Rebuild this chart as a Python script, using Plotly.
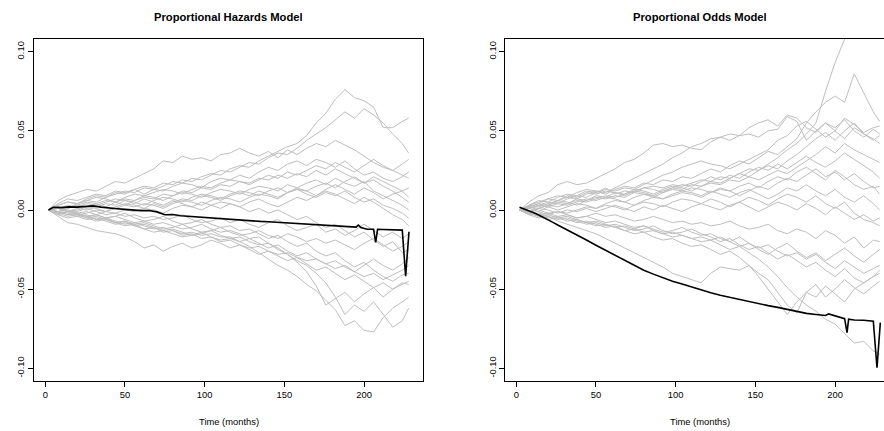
import plotly.graph_objects as go

# ---------------- data ----------------
MONTHS = [2, 8, 14, 20, 26, 32, 38, 44, 50, 56,
          62, 68, 74, 80, 86, 92, 98, 104, 110, 116,
          122, 128, 134, 140, 146, 152, 158, 164, 170, 176,
          182, 188, 194, 200, 206, 212, 218, 224, 228]

# simulated processes, Proportional Hazards panel (values x 1/1000)
PH_SIM_MILLI = [
    [0,3,5,4,7,9,8,11,10,13, 15,14,17,16,19,18,21,23,22,26, 28,27,31,34,37,40,42,47,55,61, 70,76,71,69,65,52,52,56,58],
    [0,2,1,4,6,5,8,10,12,11, 14,13,15,18,17,20,19,22,25,24, 27,30,29,33,36,35,39,44,48,52, 57,62,58,64,60,55,48,42,36],
    [0,6,9,11,13,12,15,18,17,20, 23,26,31,30,34,32,33,31,35,36, 39,36,34,37,33,38,35,39,42,40, 44,41,38,34,30,27,25,29,32],
    [0,4,7,6,8,10,9,12,11,13, 10,13,12,15,17,16,14,18,20,19, 22,20,24,27,25,29,31,28,32,30, 27,31,26,22,24,20,18,21,24],
    [0,-1,1,3,2,4,6,5,3,6, 8,7,10,9,12,11,14,13,16,15, 18,17,20,19,22,20,23,21,25,22, 26,23,20,17,21,18,15,12,14],
    [0,2,1,3,5,4,2,5,7,6, 9,8,6,9,11,10,8,11,13,12, 10,13,15,14,12,16,14,17,19,16, 20,17,15,18,12,9,6,3,0],
    [0,-2,-1,1,0,2,4,3,6,5, 3,6,8,7,5,8,10,9,7,10, 12,11,9,12,14,11,13,10,8,11, 9,12,8,5,7,3,1,-2,-5],
    [0,1,-1,-3,-2,0,-1,1,3,2, 4,3,1,4,6,5,3,6,8,7, 5,8,10,9,7,11,13,12,15,17, 14,18,21,17,19,15,12,8,5],
    [0,-1,-3,-2,-4,-3,-1,-2,0,-1, 1,0,-2,1,3,2,0,3,5,4, 2,5,7,4,2,5,8,6,9,12, 10,7,4,8,5,1,-3,-6,-10],
    [0,-2,-4,-3,-5,-7,-6,-8,-7,-9, -8,-10,-12,-11,-9,-12,-14,-13,-11,-14, -16,-15,-13,-16,-18,-15,-17,-20,-18,-21, -19,-22,-25,-21,-18,-22,-26,-23,-20],
    [0,-1,-2,-4,-3,-6,-5,-8,-10,-9, -12,-11,-14,-13,-16,-15,-18,-17,-20,-19, -22,-24,-23,-26,-28,-27,-30,-32,-31,-34, -37,-35,-39,-42,-40,-44,-41,-38,-35],
    [0,-4,-8,-9,-11,-13,-14,-15,-17,-20, -24,-22,-26,-23,-21,-24,-22,-19,-21,-24, -22,-25,-28,-26,-29,-32,-30,-34,-38,-36, -40,-44,-41,-45,-49,-46,-50,-47,-45],
    [0,-1,-3,-2,-4,-6,-5,-7,-9,-8, -10,-12,-11,-13,-15,-14,-16,-15,-17,-17, -20,-23,-27,-31,-35,-38,-42,-47,-51,-57, -63,-73,-70,-76,-77,-68,-62,-58,-55],
    [0,-2,-1,-3,-5,-4,-6,-8,-7,-10, -9,-11,-13,-12,-14,-16,-15,-13,-16,-18, -17,-20,-22,-21,-25,-28,-32,-35,-40,-46, -55,-66,-60,-64,-58,-66,-74,-70,-62],
    [0,1,-1,-2,-4,-3,-5,-4,-6,-8, -7,-9,-8,-10,-12,-11,-9,-12,-14,-13, -15,-18,-17,-21,-24,-28,-33,-39,-48,-60, -56,-52,-58,-53,-49,-55,-50,-46,-47],
    [0,-1,0,-2,-1,-3,-5,-4,-2,-5, -7,-6,-4,-7,-9,-8,-6,-9,-11,-10, -13,-12,-15,-18,-16,-20,-23,-21,-26,-29, -27,-32,-36,-33,-38,-42,-45,-41,-40],
    [0,1,3,2,4,3,5,7,6,4, 7,5,3,6,4,2,5,3,1,4, 2,-1,1,-2,0,-3,-6,-4,-8,-11, -9,-13,-17,-14,-19,-23,-20,-27,-25],
    [0,-3,-1,0,2,1,-1,2,4,3, 1,4,2,5,7,6,9,8,6,9, 11,9,12,10,8,11,14,12,9,13, 16,13,10,14,11,7,10,12,8],
    [0,2,0,-1,1,-1,-3,-2,-4,-3, -5,-4,-6,-5,-3,-6,-8,-7,-5,-8, -6,-9,-11,-8,-6,-10,-13,-11,-9,-14, -12,-16,-13,-9,-13,-17,-14,-18,-15],
    [0,3,5,4,6,8,7,5,8,10, 9,11,13,12,10,13,15,14,17,19, 18,16,19,22,20,24,22,25,28,26, 30,27,24,28,32,28,25,22,20],
    [0,-3,-5,-4,-6,-5,-7,-9,-8,-10, -12,-14,-13,-15,-17,-16,-14,-17,-19,-18, -20,-18,-21,-24,-22,-26,-29,-27,-31,-34, -32,-36,-39,-35,-31,-35,-38,-34,-30],
]

# simulated processes, Proportional Odds panel (values x 1/1000)
PO_SIM_MILLI = [
    [0,3,6,5,8,10,9,12,11,14, 10,12,11,14,15,14,16,15,17,19, 18,21,20,23,26,25,29,33,38,42, 48,55,75,93,108,120,126,130,128],
    [0,2,4,7,9,8,11,13,12,10, 13,15,14,17,16,19,18,21,20,23, 26,24,28,31,29,33,37,35,40,45, 55,62,68,72,68,86,74,62,56],
    [0,5,9,11,16,18,16,17,20,23, 26,30,32,36,41,42,40,41,39,38, 43,46,44,47,48,46,50,51,59,56, 44,50,55,52,57,50,46,51,48],
    [0,2,4,3,6,8,7,10,12,11, 14,17,20,23,26,29,33,36,40,42, 45,46,48,47,52,55,57,53,60,58, 52,49,55,50,58,54,49,52,53],
    [0,1,3,5,4,7,9,8,11,13, 12,14,13,16,19,22,24,27,29,31, 29,28,26,29,32,35,38,44,47,53, 56,51,46,50,45,52,48,44,47],
    [0,-2,1,3,5,4,7,6,9,8, 11,10,13,12,10,13,15,14,12,15, 17,16,19,18,21,19,22,25,23,27, 31,35,40,36,42,38,35,32,30],
    [0,3,2,4,6,5,3,6,8,7, 9,8,11,10,8,11,13,12,14,13, 11,14,12,9,12,15,13,17,20,18, 22,26,21,24,19,23,18,14,15],
    [0,1,-1,2,4,3,5,7,6,8, 7,5,8,10,9,7,10,12,11,9, 12,10,8,11,13,10,7,10,14,12, 16,12,9,13,8,5,9,4,0],
    [0,-2,-4,-3,-1,-2,0,2,1,3, 2,0,3,5,4,2,5,7,6,4, 7,5,2,5,8,6,3,7,10,8, 5,9,4,1,5,-2,-6,-8,-10],
    [0,-1,-3,-2,-4,-3,-5,-4,-2,-4, -3,-5,-7,-6,-4,-6,-8,-7,-9,-8, -10,-9,-7,-10,-12,-11,-9,-13,-15,-12, -14,-18,-13,-16,-21,-17,-24,-19,-20],
    [0,-3,-5,-4,-7,-9,-11,-13,-15,-18, -21,-24,-27,-30,-33,-36,-40,-42,-44,-46, -40,-36,-37,-38,-35,-40,-44,-52,-60,-65, -52,-55,-48,-53,-58,-50,-46,-42,-38],
    [0,-2,-1,-3,-5,-4,-6,-8,-7,-9, -11,-10,-12,-14,-13,-15,-17,-16,-18,-20, -19,-22,-25,-23,-27,-31,-36,-42,-49,-55, -60,-64,-69,-72,-78,-84,-83,-89,-91],
    [0,-1,-3,-5,-4,-6,-8,-7,-9,-11, -10,-13,-15,-14,-17,-19,-18,-21,-23,-22, -25,-28,-26,-30,-35,-42,-50,-58,-66,-58, -52,-47,-55,-50,-44,-49,-53,-48,-45],
    [0,2,0,-2,-1,-3,-5,-4,-6,-8, -7,-9,-11,-10,-12,-14,-13,-11,-14,-16, -15,-18,-20,-17,-21,-24,-22,-26,-29,-27, -31,-28,-33,-37,-32,-36,-40,-37,-35],
    [0,-2,-4,-6,-5,-7,-6,-8,-10,-9, -11,-13,-12,-10,-13,-15,-14,-16,-18,-17, -19,-17,-20,-23,-21,-25,-28,-24,-21,-26, -30,-27,-32,-28,-24,-29,-33,-28,-25],
    [0,1,3,2,0,2,4,3,1,4, 6,5,3,6,8,7,9,11,10,8, 11,13,12,15,17,14,18,21,19,24, 27,23,19,25,21,16,13,15,10],
    [0,2,1,3,2,4,6,5,7,9, 8,10,12,11,9,12,14,13,16,15, 18,17,20,23,21,25,28,26,31,35, 40,45,49,44,50,55,48,45,42],
    [0,-1,1,0,-2,0,-1,1,-1,1, 3,1,-1,2,0,3,1,-1,2,4, 2,0,3,5,2,-1,2,5,3,0, 4,1,-3,2,-2,-6,-3,-7,-5],
    [0,3,5,7,6,9,8,11,10,12, 11,9,12,14,13,11,14,16,15,18, 21,19,22,20,24,27,25,29,26,30, 34,30,27,31,36,32,28,24,20],
    [0,-3,-2,-4,-6,-5,-7,-9,-8,-10, -9,-11,-13,-12,-10,-13,-15,-14,-12,-15, -17,-20,-18,-22,-25,-23,-27,-31,-28,-32, -36,-33,-38,-42,-37,-43,-46,-42,-40],
]

# observed process, Proportional Hazards
PH_OBS_T = [2,5,10,15,20,25,30,35,40,45, 50,55,60,65,70,75,80,85,90,95,
            100,105,110,115,120,125,130,135,140,145, 150,155,160,165,170,175,180,185,190,195,
            196.4,198,202,206,207.3,208.5,212,218,224,226.1, 228.2]
PH_OBS_MILLI = [0,1.7,1.5,2.0,1.8,2.2,2.6,1.8,1.5,0.8, 0.4,-0.2,-0.4,-0.3,-1.2,-3.0,-2.8,-3.6,-4.0,-4.4,
                -4.8,-5.2,-5.6,-5.9,-6.3,-6.6,-6.9,-7.2,-7.4,-7.7, -8.0,-8.3,-8.6,-9.0,-9.4,-9.8,-10.1,-10.4,-10.6,-10.8,
                -9.5,-11.0,-12.2,-12.2,-20.4,-12.2,-12.3,-12.5,-12.7,-41.8, -13.7]

# observed process, Proportional Odds
PO_OBS_T = [2,5,8,11,14,17,20,23,26,32, 38,44,50,56,62,68,74,80,86,92,
            98,104,110,116,122,128,134,140,146,152, 158,164,170,176,182,188,194,196,200,206,
            207.5,208.5,212,218,224,226.3,228.4]
PO_OBS_MILLI = [1.7,0.6,-0.5,-1.8,-3.2,-4.6,-6.0,-7.8,-9.5,-12.5, -15.8,-19.0,-22.3,-25.4,-28.5,-32.0,-35.0,-38.0,-40.5,-42.8,
                -45.0,-46.8,-48.7,-50.5,-52.3,-53.8,-55.2,-56.6,-58.0,-59.2, -60.4,-61.5,-62.7,-64.0,-65.3,-66.0,-66.6,-65.6,-67.0,-68.6,
                -77.4,-69.0,-69.5,-69.6,-70.3,-99.6,-71.1]

TITLES = ["Proportional Hazards Model", "Proportional Odds Model"]
X_LABEL = "Time (months)"
X_TICKS = [0, 50, 100, 150, 200]
Y_TICKS = [-0.10, -0.05, 0.00, 0.05, 0.10]
Y_TICK_TEXT = ["-0.10", "-0.05", "0.00", "0.05", "0.10"]

for p in PH_SIM_MILLI + PO_SIM_MILLI:
    assert len(p) == len(MONTHS), len(p)
assert len(PH_OBS_T) == len(PH_OBS_MILLI)
assert len(PO_OBS_T) == len(PO_OBS_MILLI)

# ---------------- figure ----------------
W, H = 884, 431
GRAY = "#BEBEBE"
FONT = "Liberation Sans, Arial, Helvetica, sans-serif"

fig = go.Figure()

def add_panel(sims, obs_t, obs_v, xa, ya):
    for p in sims:
        fig.add_trace(go.Scatter(x=MONTHS, y=[v / 1000 for v in p], mode="lines",
                                 line=dict(color=GRAY, width=1), xaxis=xa, yaxis=ya,
                                 hoverinfo="skip"))
    fig.add_trace(go.Scatter(x=obs_t, y=[v / 1000 for v in obs_v], mode="lines",
                             line=dict(color="black", width=1.6), xaxis=xa, yaxis=ya,
                             hoverinfo="skip"))

add_panel(PH_SIM_MILLI, PH_OBS_T, PH_OBS_MILLI, "x", "y")
add_panel(PO_SIM_MILLI, PO_OBS_T, PO_OBS_MILLI, "x2", "y2")

# pixel geometry of the plot regions
L1, R1 = 34, 423
L2, R2 = 505.3, 884
TOP, BOT = 39, 381
ydom = [(H - BOT) / H, (H - TOP) / H]

axis_common = dict(showgrid=False, zeroline=False, showline=True, linecolor="black",
                   linewidth=1, ticks="outside", ticklen=5, tickwidth=1, tickcolor="black",
                   tickfont=dict(family=FONT, size=9.4, color="black"))

fig.update_layout(
    width=W, height=H,
    margin=dict(l=0, r=0, t=0, b=0),
    paper_bgcolor="white", plot_bgcolor="white",
    showlegend=False,
    xaxis=dict(domain=[L1 / W, R1 / W], range=[-7.09, 237.0], tickvals=X_TICKS,
               mirror=True, anchor="y", **axis_common),
    yaxis=dict(domain=ydom, range=[-0.108, 0.108], tickvals=Y_TICKS, ticktext=Y_TICK_TEXT,
               tickangle=-90, mirror=True, anchor="x", **axis_common),
    xaxis2=dict(domain=[L2 / W, R2 / W], range=[-6.9, 230.7], tickvals=X_TICKS,
                mirror=True, anchor="y2", **axis_common),
    yaxis2=dict(domain=ydom, range=[-0.108, 0.108], tickvals=Y_TICKS, ticktext=Y_TICK_TEXT,
                tickangle=-90, mirror=False, anchor="x2", **axis_common),
)

centers = [(L1 + R1) / 2 / W, (L2 + 894) / 2 / W]
for cx, title in zip(centers, TITLES):
    fig.add_annotation(x=cx, y=1 - 16.7 / H, xref="paper", yref="paper",
                       text="<b>" + title + "</b>", showarrow=False,
                       xanchor="center", yanchor="middle",
                       font=dict(family=FONT, size=11.2, color="black"))
    fig.add_annotation(x=cx, y=1 - 421.7 / H, xref="paper", yref="paper",
                       text=X_LABEL, showarrow=False,
                       xanchor="center", yanchor="middle",
                       font=dict(family=FONT, size=9.4, color="black"))

fig.write_html("out.html", config={"displayModeBar": False},
               post_script="document.body.style.margin='0';document.body.style.overflow='hidden';")
